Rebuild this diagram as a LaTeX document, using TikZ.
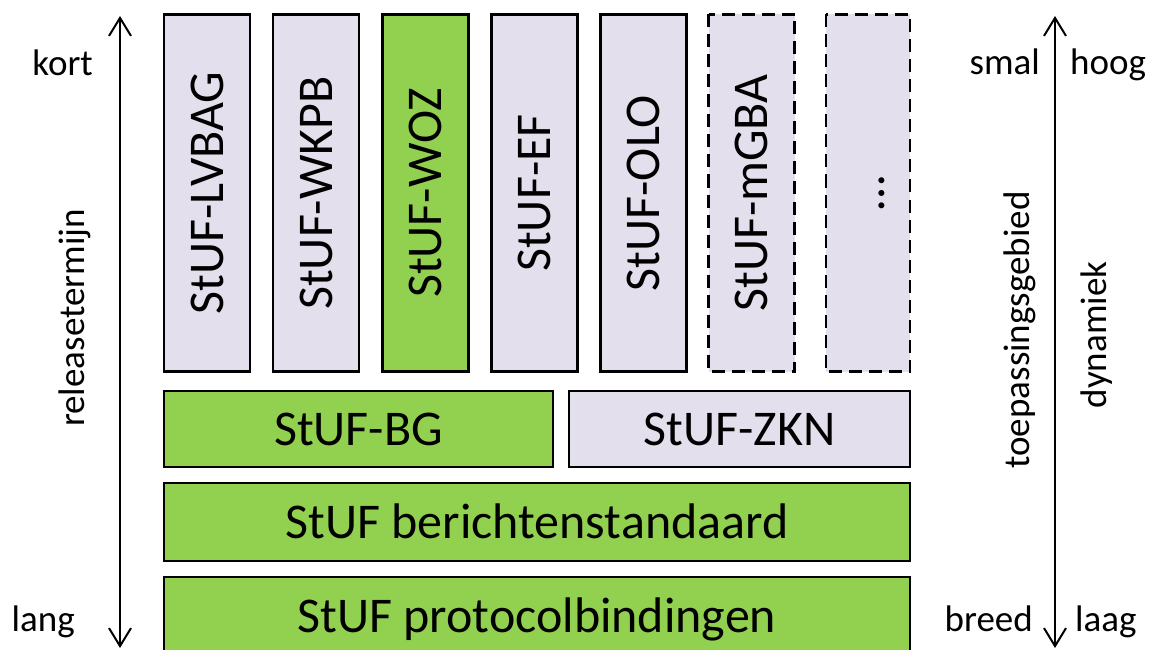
\documentclass[tikz,border=0pt]{standalone}
\usepackage{fontspec}
\setmainfont{Carlito}
\usetikzlibrary{arrows.meta}
\definecolor{stuflila}{RGB}{228,223,236}
\definecolor{stufgroen}{RGB}{146,208,80}
\tikzset{
    stuflaag/.style={
        draw=black, line width=2.5pt, fill=stuflila,
        inner sep=0pt, font=\fontsize{50}{60}\selectfont,
        text height=32pt, text depth=0pt
    },
    groen/.style={fill=stufgroen},
    gepland/.style={dash pattern=on 13pt off 7pt},
    kolom/.style={stuflaag, rotate=90, minimum width=357pt, minimum height=86pt},
    tekst/.style={font=\fontsize{37}{44}\selectfont, inner sep=0pt}
}
\tikzset{>={Straight Barb[length=18pt,width=22pt,line width=2pt]}}

\begin{document}
\begin{tikzpicture}[x=1pt,y=-1pt]
        \useasboundingbox (0,0) rectangle (1157,650);

        % bovenste rij: de sectormodellen
        \node[kolom] (lvbag) at (207,193) {StUF-LVBAG};
        \node[kolom] (wkpb) at (316,193) {StUF-WKPB};
        \node[kolom,groen] (woz) at (425.5,193) {StUF-WOZ};
        \node[kolom] (ef) at (534.5,193) {StUF-EF};
        \node[kolom] (olo) at (643.5,193) {StUF-OLO};
        \node[kolom,gepland] (mgba) at (751.5,193) {StUF-mGBA};
        \node[kolom,gepland,minimum height=84pt] (meer) at (868,193) {\dots};

        % onderste lagen
        \node[stuflaag,groen,minimum width=389pt,minimum height=76pt] (bg) at (358.5,429) {StUF-BG};
        \node[stuflaag,minimum width=341pt,minimum height=76pt] (zkn) at (739.5,429) {StUF-ZKN};
        \node[stuflaag,groen,minimum width=746pt,minimum height=78pt] (bericht) at (537,522) {StUF berichtenstandaard};
        \node[stuflaag,groen,minimum width=746pt,minimum height=78pt] (protocol) at (537,616) {StUF protocolbindingen};

        % assen
        \coordinate (reltop) at (120,16);
        \coordinate (relbot) at (120,648);
        \coordinate (dyntop) at (1055,16);
        \coordinate (dynbot) at (1055,648);
        \draw[<->,line width=2pt] (relbot) -- (reltop);
        \draw[<->,line width=2pt] (dynbot) -- (dyntop);

        \node[tekst,anchor=base east] (kort) at (93,76) {kort};
        \node[tekst,anchor=base east] (lang) at (75,631) {lang};
        \node[tekst,rotate=90] (release) at (75,318) {releasetermijn};

        \node[tekst,anchor=base east] (smal) at (1040,75) {smal};
        \node[tekst,anchor=base west] (hoog) at (1070,75) {hoog};
        \node[tekst,anchor=base east] (breed) at (1033,631) {breed};
        \node[tekst,anchor=base west] (laag) at (1075,631) {laag};
        \node[tekst,rotate=90] (toepassing) at (1020,330) {toepassingsgebied};
        \node[tekst,rotate=90] (dynamiek) at (1097,335) {dynamiek};
    \end{tikzpicture}
\end{document}
